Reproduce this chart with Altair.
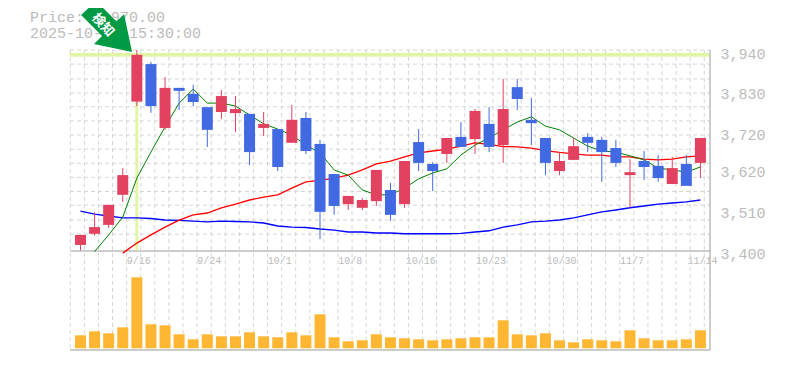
import altair as alt
import pandas as pd

# Sessions (index on the x axis) and labelled dates
label_idx = [4, 9, 14, 19, 24, 29, 34, 39, 44]
label_txt = ["9/16", "9/24", "10/1", "10/8", "10/16", "10/23", "10/30", "11/7", "11/14"]

opens = [3415,3445,3469,3550,3801,3902,3730,3838,3822,3786,3773,3770,3768,3730,3727,3690,3757,3687,3606,3525,3515,3533,3563,3525,3692,3633,3660,3706,3700,3741,3684,3840,3752,3703,3614,3644,3706,3698,3676,3603,3641,3628,3579,3633,3636]
closes = [3442,3463,3523,3603,3927,3789,3838,3830,3800,3725,3816,3781,3665,3741,3625,3752,3668,3504,3520,3547,3536,3617,3496,3641,3636,3614,3703,3679,3776,3679,3781,3808,3743,3636,3641,3681,3690,3665,3636,3611,3625,3595,3622,3574,3703]
highs = [3442,3503,3523,3622,3940,3908,3867,3838,3846,3786,3832,3816,3768,3773,3727,3792,3773,3698,3606,3547,3541,3617,3582,3641,3727,3638,3703,3746,3781,3786,3862,3862,3811,3703,3665,3703,3716,3706,3698,3646,3668,3657,3652,3657,3703]
lows = [3400,3440,3461,3531,3789,3771,3725,3778,3789,3679,3754,3719,3630,3708,3614,3690,3660,3431,3496,3509,3509,3520,3480,3515,3614,3560,3636,3679,3660,3665,3636,3778,3684,3603,3603,3644,3665,3585,3625,3515,3590,3585,3579,3574,3595]
volumes = [13,17,15,21,71,24,23,14,9,14,12,12,16,12,11,16,13,34,11,7,8,14,11,10,9,8,9,10,11,11,28,14,13,15,8,6,9,8,7,18,10,8,8,9,18]

ma_short = [3397,3442,3490,3595,3665,3733,3797,3835,3797,3797,3789,3765,3741,3727,3711,3684,3663,3617,3603,3563,3550,3550,3568,3593,3609,3620,3657,3684,3703,3725,3746,3760,3735,3725,3703,3681,3668,3665,3655,3644,3622,3617,3611,3625]
ma_mid = [3393,3420,3442,3463,3482,3496,3501,3515,3525,3536,3544,3550,3568,3585,3589,3595,3603,3617,3633,3641,3652,3663,3668,3673,3681,3690,3686,3680,3679,3676,3669,3664,3660,3657,3657,3652,3652,3646,3644,3646,3652,3655]
ma_long = [3506,3498,3493,3488,3488,3486,3482,3481,3479,3477,3479,3478,3477,3474,3466,3463,3462,3458,3455,3450,3450,3447,3447,3445,3445,3445,3445,3446,3450,3453,3463,3469,3477,3479,3482,3488,3496,3504,3509,3515,3520,3525,3528,3531,3536]

price_ticks = [3400, 3510, 3620, 3720, 3830, 3940]
h_grid = [3902,3862,3824,3787,3749,3711,3673,3635,3597,3559,3522,3482,3444,3940]
v_grid = [i - 0.725 for i in range(46)]
alert_price = 3927
alert_idx = 4

GREY = "#bbbbbb"
GRID = "#d6d6d6"
MONO = "Liberation Mono"
W, H = 640, 300

expr = "{" + ",".join(f"'{i}':'{t}'" for i, t in zip(label_idx, label_txt)) + "}[datum.value]"
x_axis = alt.Axis(values=label_idx, labelExpr=expr, grid=False, ticks=False, domain=True, domainColor=GREY,
                  domainWidth=1.5, labelFont=MONO, labelFontSize=10, labelColor=GREY, labelPadding=5,
                  labelOffset=1.5, labelBound=False, labelFlush=False, labelOverlap=False, offset=-99.5, title=None)

xs = alt.Scale(domain=[-0.745, 44.68], nice=False, zero=False, padding=0)
def X(f):
    return alt.X(f, type="quantitative", scale=xs, axis=x_axis, title=None)
def Y(f):
    return alt.Y(f, type="quantitative", axis=None, title=None,
                 scale=alt.Scale(domain=[3400, 3940], range=[200.5, 0], nice=False, zero=False))

n = len(opens)
df = pd.DataFrame({"i": range(n), "open": opens, "close": closes, "high": highs, "low": lows, "volume": [v * 1000 for v in volumes]})
df["dir"] = ["up" if c >= o else "down" for o, c in zip(opens, closes)]

def line(vals, start, color, width):
    d = pd.DataFrame({"i": range(start, start + len(vals)), "v": vals})
    return alt.Chart(d).mark_line(color=color, strokeWidth=width).encode(x=X("i"), y=Y("v"))

vgrid = alt.Chart(pd.DataFrame({"x": v_grid})).mark_rule(color=GRID, strokeDash=[4, 3], strokeWidth=1).encode(
    x=X("x"), y=alt.value(0), y2=alt.value(H))
hgrid = alt.Chart(pd.DataFrame({"p": h_grid})).mark_rule(color=GRID, strokeDash=[4, 3], strokeWidth=1).encode(
    y=Y("p"), x=alt.value(0), x2=alt.value(W))

price_axis = alt.Chart(pd.DataFrame({"p": [3400, 3940]})).mark_rule(opacity=0).encode(
    y=alt.Y("p:Q", title=None, scale=alt.Scale(domain=[3400, 3940], range=[200.5, 0], nice=False, zero=False),
            axis=alt.Axis(orient="right", values=price_ticks, format=",.0f", grid=False, ticks=False, domain=False,
                          labelFont=MONO, labelFontSize=15, labelColor=GREY, labelPadding=10, labelOffset=3,
                          labelBound=False, labelFlush=False, labelOverlap=False, title=None)))

band_h = alt.Chart(pd.DataFrame({"p": [alert_price]})).mark_rule(color="#e1f5a4", strokeWidth=3.6).encode(
    y=Y("p"), x=alt.value(0), x2=alt.value(W))
band_v = alt.Chart(pd.DataFrame({"i": [alert_idx], "p": [alert_price], "p0": [3400]})).mark_rule(color="#e1f5a4", strokeWidth=3).encode(
    x=X("i"), y=Y("p"), y2="p0:Q")

right_edge = alt.Chart(pd.DataFrame({"a": [0]})).mark_rule(color=GREY, strokeWidth=1.5).encode(
    x=alt.value(W), y=alt.value(0), y2=alt.value(H))
bottom_edge = alt.Chart(pd.DataFrame({"a": [0]})).mark_rule(color=GREY, strokeWidth=1.5).encode(
    x=alt.value(0), x2=alt.value(W), y=alt.value(H))

color = alt.Color("dir:N", legend=None, scale=alt.Scale(domain=["up", "down"], range=["#e2425f", "#4169e1"]))
wicks = alt.Chart(df).mark_rule(strokeWidth=1).encode(x=X("i"), y=Y("high"), y2="low:Q", color=color)
bodies = alt.Chart(df).mark_bar(size=11, orient="vertical").encode(x=X("i"), y=Y("open"), y2="close:Q", color=color)
vol = alt.Chart(df).mark_bar(size=11, orient="vertical", color="#ffb733").encode(
    x=X("i"),
    y=alt.Y("volume:Q", axis=None, title=None, stack=None,
            scale=alt.Scale(domain=[0, 71000], range=[298.3, 227.3], nice=False, zero=False)))

title = alt.Chart(pd.DataFrame({"t": ["Price: 3,970.00", "2025-10-31 15:30:00"], "y": [-33, -17]})).mark_text(
    font=MONO, fontSize=15, color=GREY, align="left", baseline="middle").encode(
    text="t:N", x=alt.value(-40), y=alt.Y("y:Q", scale=None, axis=None))

ARROW = "M-4.8 2L-12.8 -36L-20.3 -28.5L-40.8 -49L-55.8 -35L-34.8 -14L-42.8 -6Z"
arrow = alt.Chart(pd.DataFrame({"i": [alert_idx], "p": [3940]})).mark_point(
    shape=ARROW, size=4, filled=True, fill="#009944", opacity=1).encode(x=X("i"), y=Y("p"))
arrow_text = alt.Chart(pd.DataFrame({"t": ["検知"]})).mark_text(
    font="Noto Sans CJK JP", fontSize=13, fontWeight="bold", color="white", angle=48,
    align="center", baseline="middle").encode(text="t:N", x=alt.value(33), y=alt.value(-25))

chart = alt.layer(
    vgrid, hgrid, band_v, band_h, line(ma_long, 0, "#0000ff", 1.4),
    line(ma_mid, 3, "#ff0000", 1.3), line(ma_short, 1, "#008000", 1),
    wicks, bodies, vol, right_edge, bottom_edge, price_axis, title, arrow, arrow_text
).resolve_scale(y="independent").properties(
    width=W, height=H,
    autosize=alt.AutoSizeParams(type="none"),
    padding={"left": 62, "top": 42, "right": 67, "bottom": 12},
).configure_view(stroke=None)

chart.save("out.html", embed_options={"renderer": "svg", "actions": False})
